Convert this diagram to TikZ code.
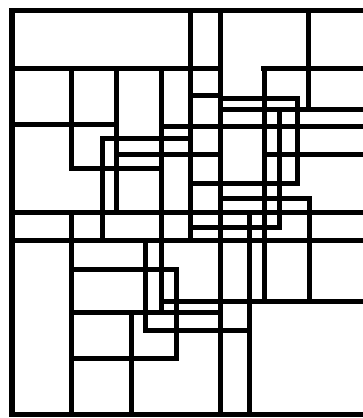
\documentclass[tikz,border=0pt]{standalone}
\begin{document}
\begin{tikzpicture}[x=1pt,y=-1pt,
  wall/.style={line width=5pt,line cap=rect,black}]
\fill[white] (0,0) rectangle (362,418);
\useasboundingbox (0,0) rectangle (362,418);
% horizontal walls: y / x1 / x2
\foreach \y/\a/\b in {10/11/362, 414/11/362, 68/12/220, 68/263/362,
  95/190/220, 98/220/297, 109/220/362, 124/12/116, 126/161/362,
  138/102/190, 154/116/220, 154/264/362, 168/71/161, 183/190/297,
  198/220/309, 212/12/362, 227/190/279, 240/12/362, 269/71/176,
  301/161/362, 312/71/220, 330/145/249, 358/71/176}
  \draw[wall] (\a,\y) -- (\b,\y);
% vertical walls: x / y1 / y2
\foreach \x/\a/\b in {12/10/414, 71/68/168, 71/212/414, 102/138/240,
  116/68/212, 131/312/414, 145/240/330, 161/68/312, 176/269/358,
  190/10/240, 220/10/414, 249/212/414, 264/68/301, 279/109/227,
  297/98/183, 308/10/109, 309/198/301}
  \draw[wall] (\x,\a) -- (\x,\b);
\draw[line width=6pt,black] (12,10) -- (12,414);
\end{tikzpicture}
\end{document}
